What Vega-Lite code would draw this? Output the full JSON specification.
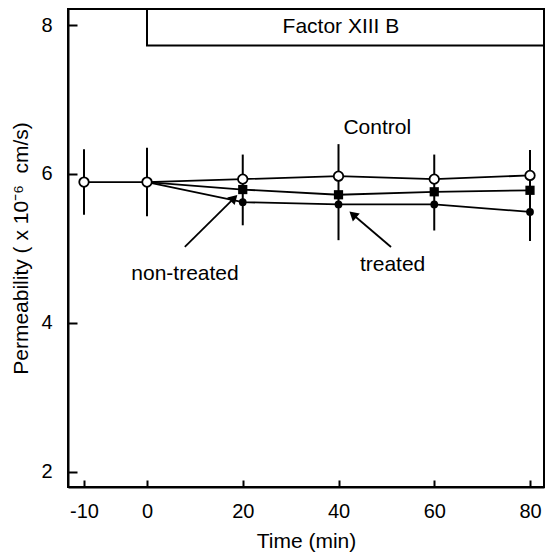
{
  "$schema": "https://vega.github.io/schema/vega-lite/v6.json",
  "width": 476,
  "height": 478,
  "autosize": "none",
  "padding": {"left": 68, "top": 9, "right": 5, "bottom": 66},
  "background": "white",
  "config": {
    "font": "Liberation Sans",
    "view": {"stroke": "black", "strokeWidth": 2},
    "axis": {
      "grid": false,
      "domainColor": "black",
      "domainWidth": 2,
      "tickColor": "black",
      "tickWidth": 2,
      "labelColor": "black",
      "titleColor": "black",
      "labelFont": "Liberation Sans",
      "titleFont": "Liberation Sans",
      "labelFontSize": 20,
      "titleFontSize": 21,
      "titleFontWeight": "normal"
    },
    "text": {"font": "Liberation Sans", "fontSize": 21, "color": "black"}
  },
  "datasets": {
    "series": [
      {"t": -10, "v": 5.89, "grp": "control"},
      {"t": 0, "v": 5.89, "grp": "control"},
      {"t": 20, "v": 5.93, "grp": "control"},
      {"t": 40, "v": 5.97, "grp": "control"},
      {"t": 60, "v": 5.93, "grp": "control"},
      {"t": 80, "v": 5.98, "grp": "control"},
      {"t": 0, "v": 5.89, "grp": "non-treated"},
      {"t": 20, "v": 5.79, "grp": "non-treated"},
      {"t": 40, "v": 5.72, "grp": "non-treated"},
      {"t": 60, "v": 5.76, "grp": "non-treated"},
      {"t": 80, "v": 5.78, "grp": "non-treated"},
      {"t": 0, "v": 5.89, "grp": "treated"},
      {"t": 20, "v": 5.62, "grp": "treated"},
      {"t": 40, "v": 5.59, "grp": "treated"},
      {"t": 60, "v": 5.59, "grp": "treated"},
      {"t": 80, "v": 5.49, "grp": "treated"}
    ],
    "errs": [
      {"t": -10, "lo": 5.45, "hi": 6.33},
      {"t": 0, "lo": 5.43, "hi": 6.35},
      {"t": 20, "lo": 5.31, "hi": 6.26},
      {"t": 40, "lo": 5.11, "hi": 6.40},
      {"t": 60, "lo": 5.24, "hi": 6.26},
      {"t": 80, "lo": 5.10, "hi": 6.32}
    ]
  },
  "layer": [
    {
      "data": {"name": "series"},
      "mark": {"type": "line", "color": "black", "strokeWidth": 1.8},
      "encoding": {
        "x": {
          "field": "t",
          "type": "quantitative",
          "scale": {"domain": [-13.3, -10, 0, 80, 82.92], "range": [0, 16, 79, 462, 476], "nice": false, "zero": false},
          "axis": {"title": "Time (min)", "values": [-10, 0, 20, 40, 60, 80], "labelExpr": "'' + datum.value", "tickSize": -7, "labelPadding": 21, "titlePadding": 9, "labelFlush": false}
        },
        "y": {
          "field": "v",
          "type": "quantitative",
          "scale": {"domain": [1.795, 8.215], "nice": false, "zero": false},
          "axis": {"title": "Permeability ( x 10⁻⁶\u00a0\u00a0cm/s)", "values": [2, 4, 6, 8], "labelExpr": "'' + datum.value", "tickSize": -9, "labelPadding": 25, "titlePadding": 9, "labelFlush": false}
        },
        "detail": {"field": "grp"},
        "order": {"field": "t"}
      }
    },
    {
      "data": {"name": "errs"},
      "mark": {"type": "rule", "color": "black", "strokeWidth": 2},
      "encoding": {
        "x": {"field": "t", "type": "quantitative"},
        "y": {"field": "lo", "type": "quantitative"},
        "y2": {"field": "hi"}
      }
    },
    {
      "data": {"name": "series"},
      "transform": [{"filter": "datum.grp == 'non-treated' && datum.t > 0"}],
      "mark": {"type": "point", "shape": "square", "filled": true, "color": "black", "size": 85, "opacity": 1},
      "encoding": {
        "x": {"field": "t", "type": "quantitative"},
        "y": {"field": "v", "type": "quantitative"}
      }
    },
    {
      "data": {"name": "series"},
      "transform": [{"filter": "datum.grp == 'treated' && datum.t > 0"}],
      "mark": {"type": "point", "shape": "circle", "filled": true, "color": "black", "size": 60, "opacity": 1},
      "encoding": {
        "x": {"field": "t", "type": "quantitative"},
        "y": {"field": "v", "type": "quantitative"}
      }
    },
    {
      "data": {"name": "series"},
      "transform": [{"filter": "datum.grp == 'control'"}],
      "mark": {"type": "point", "shape": "circle", "filled": false, "fill": "white", "stroke": "black", "strokeWidth": 1.8, "size": 90, "opacity": 1, "fillOpacity": 1},
      "encoding": {
        "x": {"field": "t", "type": "quantitative"},
        "y": {"field": "v", "type": "quantitative"}
      }
    },
    {
      "data": {"values": [{}]},
      "mark": {"type": "rect", "fill": "white", "stroke": "black", "strokeWidth": 2},
      "encoding": {
        "x": {"datum": 0, "type": "quantitative"},
        "x2": {"datum": 82.92},
        "y": {"datum": 7.725, "type": "quantitative"},
        "y2": {"datum": 8.215}
      }
    },
    {
      "data": {"values": [{"label": "Factor XIII B"}]},
      "mark": {"type": "text", "align": "center", "baseline": "middle"},
      "encoding": {
        "x": {"datum": 40.5, "type": "quantitative"},
        "y": {"datum": 7.97, "type": "quantitative"},
        "text": {"field": "label"}
      }
    },
    {
      "data": {"values": [{"label": "Control"}]},
      "mark": {"type": "text", "align": "center", "baseline": "middle"},
      "encoding": {
        "x": {"datum": 48.1, "type": "quantitative"},
        "y": {"datum": 6.62, "type": "quantitative"},
        "text": {"field": "label"}
      }
    },
    {
      "data": {"values": [{"label": "non-treated"}]},
      "mark": {"type": "text", "align": "center", "baseline": "middle"},
      "encoding": {
        "x": {"datum": 7.94, "type": "quantitative"},
        "y": {"datum": 4.655, "type": "quantitative"},
        "text": {"field": "label"}
      }
    },
    {
      "data": {"values": [{"label": "treated"}]},
      "mark": {"type": "text", "align": "center", "baseline": "middle"},
      "encoding": {
        "x": {"datum": 51.3, "type": "quantitative"},
        "y": {"datum": 4.77, "type": "quantitative"},
        "text": {"field": "label"}
      }
    },
    {
      "data": {"values": [{}]},
      "mark": {"type": "rule", "color": "black", "strokeWidth": 1.8},
      "encoding": {
        "x": {"datum": 7.9, "type": "quantitative"},
        "y": {"datum": 5.02, "type": "quantitative"},
        "x2": {"datum": 18.2},
        "y2": {"datum": 5.675}
      }
    },
    {
      "data": {"values": [{}]},
      "mark": {"type": "point", "shape": "triangle-up", "filled": true, "color": "black", "size": 110, "angle": 45, "opacity": 1},
      "encoding": {
        "x": {"datum": 18.2, "type": "quantitative"},
        "y": {"datum": 5.675, "type": "quantitative"}
      }
    },
    {
      "data": {"values": [{}]},
      "mark": {"type": "rule", "color": "black", "strokeWidth": 1.8},
      "encoding": {
        "x": {"datum": 50.97, "type": "quantitative"},
        "y": {"datum": 5.018, "type": "quantitative"},
        "x2": {"datum": 43.0},
        "y2": {"datum": 5.455}
      }
    },
    {
      "data": {"values": [{}]},
      "mark": {"type": "point", "shape": "triangle-up", "filled": true, "color": "black", "size": 110, "angle": -49, "opacity": 1},
      "encoding": {
        "x": {"datum": 43.0, "type": "quantitative"},
        "y": {"datum": 5.455, "type": "quantitative"}
      }
    }
  ]
}
